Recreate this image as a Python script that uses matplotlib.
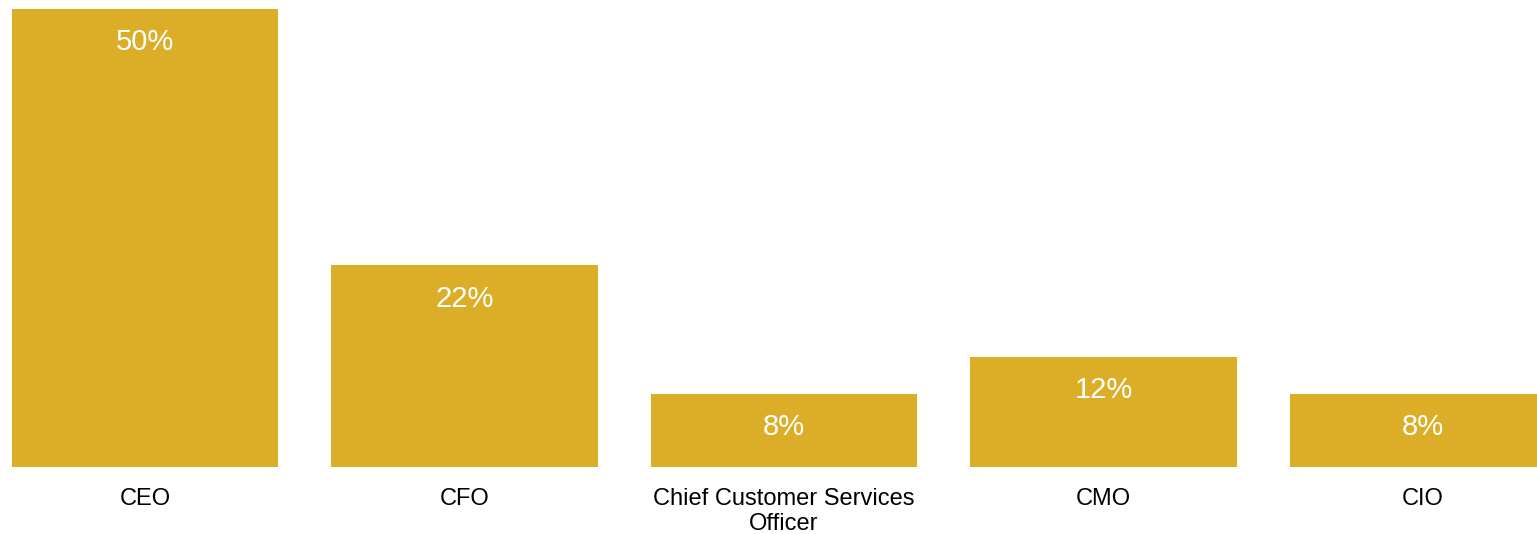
import matplotlib
matplotlib.use("Agg")
import matplotlib.pyplot as plt

categories = ["CEO", "CFO", "Chief Customer Services\nOfficer", "CMO", "CIO"]
values = [50, 22, 8, 12, 8]
value_labels = ["50%", "22%", "8%", "12%", "8%"]

plt.rcParams["font.family"] = ["Liberation Sans", "DejaVu Sans"]

W, H = 1537, 534
fig = plt.figure(figsize=(W / 100, H / 100), dpi=100)
ax = fig.add_axes([0, 67 / H, 1, 458 / H])

bar_color = "#DCAE27"
x = list(range(len(categories)))
ax.bar(x, values, width=0.833, color=bar_color, clip_on=True)

ax.set_xlim(-0.4538, 4.357)
ax.set_ylim(0, 50)

for xi, v, lab in zip(x, values, value_labels):
    ax.annotate(lab, (xi, v), xytext=(0, -24), textcoords="offset points",
                ha="center", va="center", color="white", fontsize=21,
                annotation_clip=False)

for xi, cat in zip(x, categories):
    ax.annotate(cat, (xi, 0), xytext=(0, -15), textcoords="offset points",
                ha="center", va="top", color="black", fontsize=17,
                linespacing=1.2, annotation_clip=False)

ax.axis("off")
fig.savefig("out.png", dpi=100)
